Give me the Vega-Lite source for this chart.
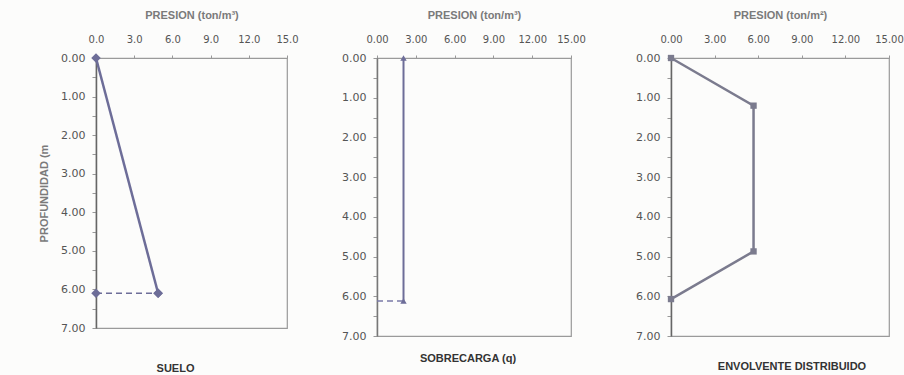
{
  "$schema": "https://vega.github.io/schema/vega-lite/v6.json",
  "background": "#fcfcfb",
  "padding": {"left": 37, "top": 8, "right": 0, "bottom": 0},
  "spacing": 90,
  "bounds": "flush",
  "config": {
    "view": {"stroke": "#9a9a9a", "strokeWidth": 1.2},
    "font": "DejaVu Sans",
    "axis": {
      "grid": false,
      "labelFont": "DejaVu Sans",
      "labelColor": "#555555",
      "domainColor": "#888888",
      "tickColor": "#999999",
      "titleFont": "Liberation Sans",
      "titleFontWeight": "bold",
      "titleColor": "#7a7a7a",
      "titleFontSize": 11
    },
    "title": {"font": "Liberation Sans", "fontWeight": "bold", "fontSize": 11, "color": "#333333", "orient": "bottom"}
  },
  "datasets": {
    "suelo": [
      {"serie": "solid", "orden": 1, "presion": 0, "prof": 0},
      {"serie": "solid", "orden": 2, "presion": 4.88, "prof": 6.1},
      {"serie": "dash", "orden": 1, "presion": 0, "prof": 6.1},
      {"serie": "dash", "orden": 2, "presion": 4.88, "prof": 6.1}
    ],
    "sobrecarga": [
      {"serie": "solid", "orden": 1, "presion": 2.05, "prof": 0},
      {"serie": "solid", "orden": 2, "presion": 2.05, "prof": 6.12},
      {"serie": "dash", "orden": 1, "presion": 0, "prof": 6.12},
      {"serie": "dash", "orden": 2, "presion": 2.05, "prof": 6.12}
    ],
    "envolvente": [
      {"serie": "solid", "orden": 1, "presion": 0, "prof": 0},
      {"serie": "solid", "orden": 2, "presion": 5.68, "prof": 1.2},
      {"serie": "solid", "orden": 3, "presion": 5.68, "prof": 4.87},
      {"serie": "solid", "orden": 4, "presion": 0, "prof": 6.07}
    ]
  },
  "hconcat": [
    {
      "width": 191,
      "height": 270,
      "title": {"text": "SUELO", "offset": 30, "dx": -16},
      "data": {"name": "suelo"},
      "encoding": {
        "x": {"field": "presion", "type": "quantitative", "scale": {"domain": [0, 15], "nice": false},
          "axis": {"orient": "top", "title": "PRESION (ton/m³)", "values": [0, 3, 6, 9, 12, 15], "format": ".1f", "labelFontSize": 10, "tickSize": 3, "labelPadding": 11, "titlePadding": 14, "labelFlush": false, "domainColor": "#9a9a9a"}},
        "y": {"field": "prof", "type": "quantitative", "scale": {"domain": [0, 7], "reverse": true, "nice": false},
          "axis": {"title": "PROFUNDIDAD (m", "values": [0, 0.5, 1, 1.5, 2, 2.5, 3, 3.5, 4, 4.5, 5, 5.5, 6, 6.5, 7], "labelExpr": "datum.value % 1 === 0 ? format(datum.value, '.2f') : ''", "labelFontSize": 11, "tickSize": 4, "labelPadding": 7, "titlePadding": 11, "domainColor": "#666666", "domainWidth": 1.5}}
      },
      "layer": [
        {"mark": {"type": "line", "color": "#6d6d98", "strokeWidth": 2.5}, "transform": [{"filter": "datum.serie === 'solid'"}], "encoding": {"order": {"field": "orden"}}},
        {"mark": {"type": "line", "color": "#6d6d98", "strokeWidth": 1.5, "strokeDash": [6, 4]}, "transform": [{"filter": "datum.serie === 'dash'"}], "encoding": {"order": {"field": "orden"}}},
        {"mark": {"type": "point", "shape": "diamond", "filled": true, "color": "#6d6d98", "size": 90, "opacity": 1}}
      ]
    },
    {
      "spacing": 100,
      "bounds": "flush",
      "hconcat": [
        {
          "width": 194,
          "height": 278,
          "title": {"text": "SOBRECARGA (q)", "offset": 12, "dx": -6},
          "data": {"name": "sobrecarga"},
          "encoding": {
            "x": {"field": "presion", "type": "quantitative", "scale": {"domain": [0, 15], "nice": false},
              "axis": {"orient": "top", "title": "PRESION (ton/m³)", "values": [0, 3, 6, 9, 12, 15], "format": ".2f", "labelFontSize": 10, "tickSize": 3, "labelPadding": 11, "titlePadding": 14, "labelFlush": false, "domainColor": "#9a9a9a"}},
            "y": {"field": "prof", "type": "quantitative", "scale": {"domain": [0, 7], "reverse": true, "nice": false},
              "axis": {"title": null, "values": [0, 0.5, 1, 1.5, 2, 2.5, 3, 3.5, 4, 4.5, 5, 5.5, 6, 6.5, 7], "labelExpr": "datum.value % 1 === 0 ? format(datum.value, '.2f') : ''", "labelFontSize": 11, "tickSize": 4, "labelPadding": 7, "domainColor": "#777777", "domainWidth": 1.5}}
          },
          "layer": [
            {"mark": {"type": "line", "color": "#6d6d98", "strokeWidth": 2}, "transform": [{"filter": "datum.serie === 'solid'"}], "encoding": {"order": {"field": "orden"}}},
            {"mark": {"type": "line", "color": "#7a7aa8", "strokeWidth": 1.5, "strokeDash": [6, 4]}, "transform": [{"filter": "datum.serie === 'dash'"}], "encoding": {"order": {"field": "orden"}}},
            {"mark": {"type": "point", "shape": "triangle-up", "filled": true, "color": "#6d6d98", "size": 40, "opacity": 1}, "transform": [{"filter": "datum.serie === 'solid'"}]}
          ]
        },
        {
          "width": 218,
          "height": 278,
          "title": {"text": "ENVOLVENTE DISTRIBUIDO", "offset": 20, "dx": 12},
          "data": {"name": "envolvente"},
          "encoding": {
            "x": {"field": "presion", "type": "quantitative", "scale": {"domain": [0, 15], "nice": false},
              "axis": {"orient": "top", "title": "PRESION (ton/m²)", "values": [0, 3, 6, 9, 12, 15], "format": ".2f", "labelFontSize": 10, "tickSize": 3, "labelPadding": 11, "titlePadding": 14, "labelFlush": false, "domainColor": "#9a9a9a"}},
            "y": {"field": "prof", "type": "quantitative", "scale": {"domain": [0, 7], "reverse": true, "nice": false},
              "axis": {"title": null, "values": [0, 0.5, 1, 1.5, 2, 2.5, 3, 3.5, 4, 4.5, 5, 5.5, 6, 6.5, 7], "labelExpr": "datum.value % 1 === 0 ? format(datum.value, '.2f') : ''", "labelFontSize": 11, "tickSize": 4, "labelPadding": 7, "domainColor": "#666666", "domainWidth": 1.5}}
          },
          "layer": [
            {"mark": {"type": "line", "color": "#7b7b8e", "strokeWidth": 2.5}, "encoding": {"order": {"field": "orden"}}},
            {"mark": {"type": "point", "shape": "square", "filled": true, "color": "#7b7b8e", "size": 40, "opacity": 1}}
          ]
        }
      ]
    }
  ]
}
